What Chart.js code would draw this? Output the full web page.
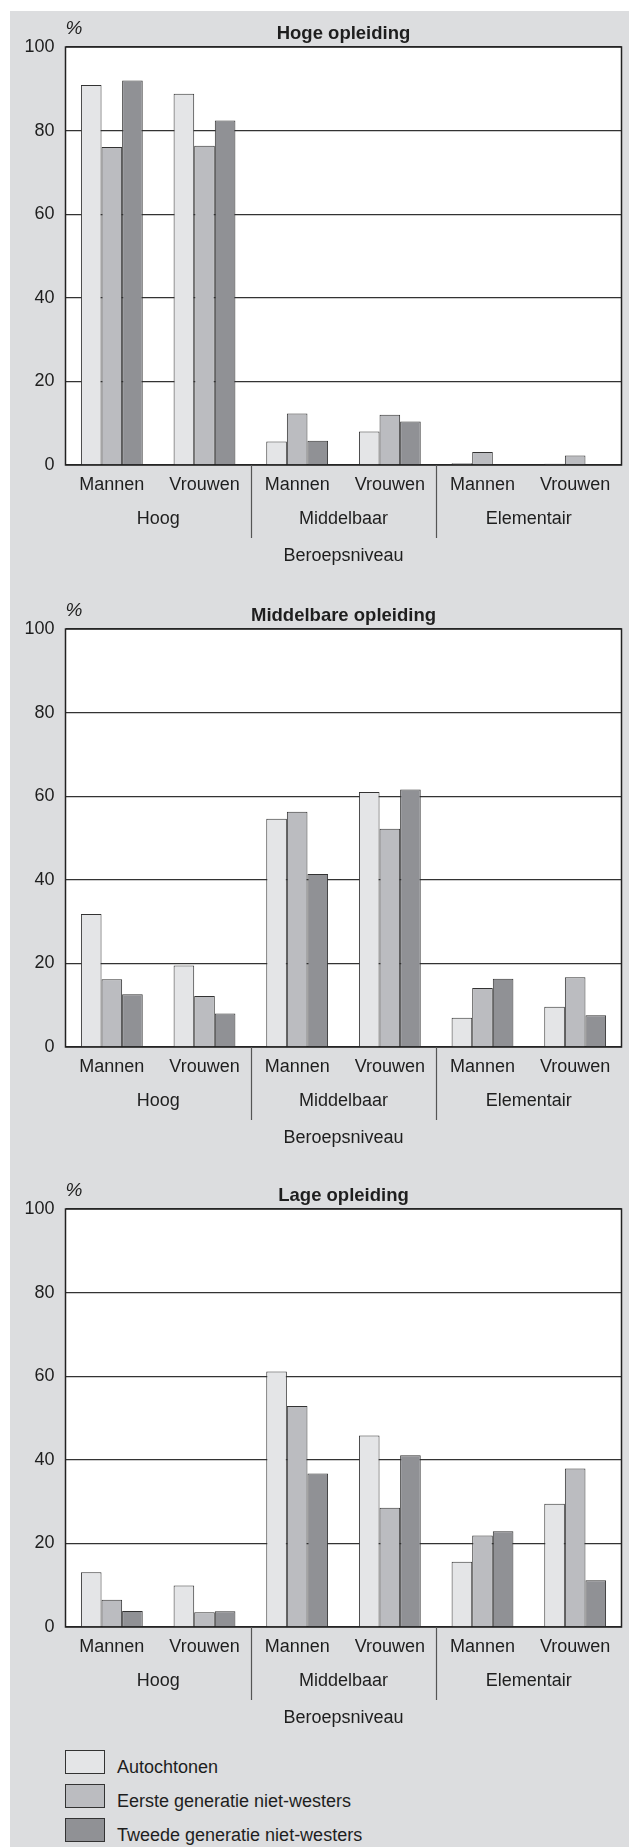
<!DOCTYPE html>
<html>
<head>
<meta charset="utf-8">
<script src="https://cdn.jsdelivr.net/npm/chart.js@4/dist/chart.umd.min.js"></script>
<style>
  html, body { margin: 0; padding: 0; background: #ffffff; }
  body { width: 629px; height: 1847px; position: relative; overflow: hidden; font-family: 'Liberation Sans', Arial, sans-serif; }
  #bg { position: absolute; left: 10px; top: 11px; right: 0; bottom: 0; background: #dcdddf; }
  canvas.panel { position: absolute; left: 0; }
  .lg-box { position: absolute; left: 65px; width: 38px; height: 22px; border: 1px solid #333; box-sizing: content-box; }
  .lg-text { position: absolute; left: 117px; font-size: 18px; color: #1e1e1e; line-height: 18px; white-space: nowrap; }
</style>
</head>
<body>
<div id="bg"></div>
<canvas id="c0" class="panel" width="629" height="580" style="top:0px"></canvas>
<canvas id="c1" class="panel" width="629" height="580" style="top:582px"></canvas>
<canvas id="c2" class="panel" width="629" height="580" style="top:1162px"></canvas>
<div id="legend"></div>
<script>
// ---- DATA ----
const categories = ['Mannen', 'Vrouwen', 'Mannen', 'Vrouwen', 'Mannen', 'Vrouwen'];
const groups = ['Hoog', 'Middelbaar', 'Elementair'];
const axisTitle = 'Beroepsniveau';
const unitLabel = '%';
const yTicks = [0, 20, 40, 60, 80, 100];
const seriesNames = ['Autochtonen', 'Eerste generatie niet-westers', 'Tweede generatie niet-westers'];
const panelTitles = ['Hoge opleiding', 'Middelbare opleiding', 'Lage opleiding'];

const hogeAutochtonen = [90.9, 88.8, 5.6, 8.0, 0.4, 0.3];
const hogeEerste      = [76.1, 76.4, 12.3, 12.0, 3.1, 2.3];
const hogeTweede      = [92.0, 82.4, 5.8, 10.4, 0, 0];

const middAutochtonen = [31.8, 19.5, 54.6, 61.0, 7.0, 9.6];
const middEerste      = [16.2, 12.2, 56.3, 52.2, 14.1, 16.7];
const middTweede      = [12.6, 8.0, 41.4, 61.6, 16.3, 7.6];

const lageAutochtonen = [13.1, 9.9, 61.1, 45.8, 15.6, 29.5];
const lageEerste      = [6.5, 3.5, 52.9, 28.5, 21.9, 37.9];
const lageTweede      = [3.8, 3.75, 36.7, 41.1, 22.9, 11.2];

// ---- STYLE ----
const seriesColors = ['#e4e5e7', '#bbbcc0', '#909195'];
const FONT = "'Liberation Sans', Arial, sans-serif";
const TEXT = '#1e1e1e';

const panels = [
  [hogeAutochtonen, hogeEerste, hogeTweede],
  [middAutochtonen, middEerste, middTweede],
  [lageAutochtonen, lageEerste, lageTweede]
];

const decorPlugin = {
  id: 'decor',
  beforeDraw(chart) {
    const a = chart.chartArea, ctx = chart.ctx;
    ctx.save();
    ctx.fillStyle = '#ffffff';
    ctx.fillRect(a.left, a.top, a.right - a.left, a.bottom - a.top);
    ctx.restore();
  },
  afterDraw(chart, args, opts) {
    const a = chart.chartArea, ctx = chart.ctx, xs = chart.scales.x;
    ctx.save();
    // frame
    ctx.strokeStyle = '#222';
    ctx.lineWidth = 1.5;
    ctx.strokeRect(a.left, a.top, a.right - a.left, a.bottom - a.top);
    // title
    ctx.fillStyle = TEXT;
    ctx.font = 'bold 18.5px ' + FONT;
    ctx.textAlign = 'center';
    ctx.textBaseline = 'alphabetic';
    ctx.fillText(opts.title, (a.left + a.right) / 2, a.top - 8);
    // unit
    ctx.font = 'italic 19px ' + FONT;
    ctx.textAlign = 'left';
    ctx.fillText(unitLabel, a.left, a.top - 13);
    // group separators
    ctx.strokeStyle = '#555';
    ctx.lineWidth = 1.2;
    for (let g = 1; g < groups.length; g++) {
      const i = g * 2;
      const x = Math.round((xs.getPixelForValue(i - 1) + xs.getPixelForValue(i)) / 2) + 0.5;
      ctx.beginPath();
      ctx.moveTo(x, a.bottom);
      ctx.lineTo(x, a.bottom + 73);
      ctx.stroke();
    }
    // group labels
    ctx.font = '18px ' + FONT;
    ctx.textAlign = 'center';
    groups.forEach((g, k) => {
      const x = (xs.getPixelForValue(k * 2) + xs.getPixelForValue(k * 2 + 1)) / 2;
      ctx.fillText(g, x, a.bottom + 59);
    });
    // axis title
    ctx.fillText(axisTitle, (a.left + a.right) / 2, a.bottom + 95.5);
    ctx.restore();
  }
};

panels.forEach((series, p) => {
  new Chart(document.getElementById('c' + p), {
    type: 'bar',
    data: {
      labels: categories,
      datasets: series.map((vals, s) => ({
        label: seriesNames[s],
        data: vals,
        backgroundColor: seriesColors[s],
        borderColor: '#333333',
        borderWidth: 1,
        categoryPercentage: 0.667,
        barPercentage: 1.0
      }))
    },
    plugins: [decorPlugin],
    options: {
      responsive: false,
      animation: false,
      devicePixelRatio: 1,
      layout: { padding: { left: 0, right: 7.5, top: 47, bottom: 0 } },
      plugins: {
        legend: { display: false },
        tooltip: { enabled: false },
        decor: { title: panelTitles[p] }
      },
      scales: {
        x: {
          grid: { display: false, drawTicks: false },
          border: { display: false },
          ticks: { font: { family: FONT, size: 18 }, color: TEXT, padding: 9, maxRotation: 0, autoSkip: false },
          afterFit(s) { s.height = 115; }
        },
        y: {
          min: 0, max: 100,
          afterBuildTicks(s) { s.ticks = yTicks.map(v => ({ value: v })); },
          grid: { color: '#333333', lineWidth: 1.2, drawTicks: false },
          border: { display: false },
          ticks: { font: { family: FONT, size: 18 }, color: TEXT, padding: 11 },
          afterFit(s) { s.width = 65.5; }
        }
      }
    }
  });
});

// legend
const legend = document.getElementById('legend');
const boxTops = [1750, 1784, 1818];
seriesNames.forEach((name, i) => {
  const b = document.createElement('div');
  b.className = 'lg-box';
  b.style.top = boxTops[i] + 'px';
  b.style.background = seriesColors[i];
  legend.appendChild(b);
  const t = document.createElement('div');
  t.className = 'lg-text';
  t.style.top = (boxTops[i] + 8) + 'px';
  t.textContent = name;
  legend.appendChild(t);
});
</script>
</body>
</html>
